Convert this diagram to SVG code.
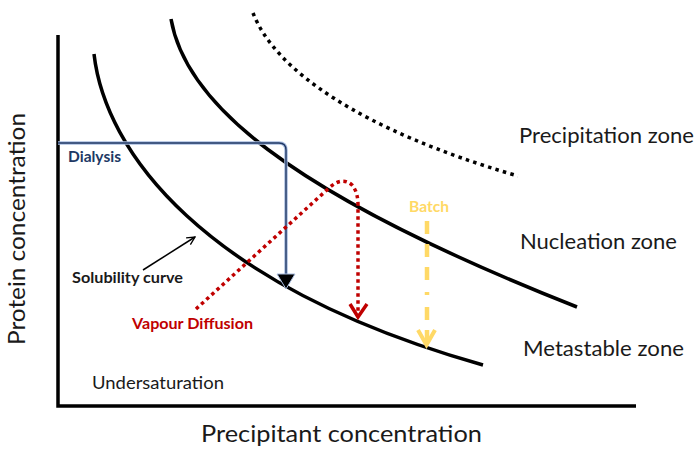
<svg xmlns="http://www.w3.org/2000/svg" width="700" height="461" viewBox="0 0 700 461">
<defs>
<style>
.curve{fill:none;stroke:#000;stroke-width:3.5}
.t{font-family:Lato,"Open Sans","Noto Sans",sans-serif;fill:#1a1a1a}
.zone{font-size:20.5px}
.ax{font-size:24px}
.lbl{font-size:15.5px;font-weight:bold}
</style>
<marker id="openArrow" viewBox="0 0 10 10" refX="9" refY="5" markerWidth="10" markerHeight="10" markerUnits="userSpaceOnUse" orient="auto">
<path d="M1,1 L9,5 L1,9" fill="none" stroke="#000" stroke-width="1.3"/>
</marker>
</defs>
<rect width="700" height="461" fill="#fff"/>
<g id="axes">
<path d="M58,35 V406 H636" fill="none" stroke="#000" stroke-width="3.5"/>
</g>
<g id="curves">
<path id="solubility-curve" class="curve" d="M94,54 C105,150 200,285 483,365"/>
<path id="nucleation-curve" class="curve" d="M171,19 C185,100 280,190 577,307"/>
<path id="precipitation-curve" d="M253,13 C275,70 360,130 518,176" fill="none" stroke="#000" stroke-width="3.5" stroke-dasharray="3.5,4.3"/>
</g>
<g id="connectors">
<g id="dialysis-path">
<path d="M58,143 H279 Q286,143 286,150 V276" fill="none" stroke="#a9bde0" stroke-width="3.5"/>
<path d="M58,143 H279 Q286,143 286,150 V276" fill="none" stroke="#203864" stroke-width="1.4"/>
<path d="M277,274 L295,274 L286,289 Z" fill="#000" stroke="#a9bde0" stroke-width="1"/>
</g>
<g id="vapour-path">
<path d="M196,309 L329,188 Q342,176 352,185 Q358,192 358,205 V316" fill="none" stroke="#c00000" stroke-width="3.5" stroke-dasharray="3.5,3.5"/>
<path d="M350,304 L358,317 L367,304" fill="none" stroke="#c00000" stroke-width="3.5"/>
</g>
<g id="batch-path">
<path d="M427,221 V344" fill="none" stroke="#ffd966" stroke-width="4.5" stroke-dasharray="13,10,13,10,13,12,3,12"/>
<path d="M418,330 L426.5,345 L435,330" fill="none" stroke="#ffd966" stroke-width="4"/>
</g>
<path id="solubility-pointer" d="M143,270 L195,237" stroke="#000" stroke-width="1.5" marker-end="url(#openArrow)"/>
</g>
<g id="labels">
<text class="t zone" x="519" y="143" textLength="175" lengthAdjust="spacingAndGlyphs">Precipitation zone</text>
<text class="t zone" x="520" y="249" textLength="157" lengthAdjust="spacingAndGlyphs">Nucleation zone</text>
<text class="t zone" x="523" y="356" textLength="161" lengthAdjust="spacingAndGlyphs">Metastable zone</text>
<text class="t ax" x="201" y="442" textLength="281" lengthAdjust="spacingAndGlyphs">Precipitant concentration</text>
<text class="t ax" transform="translate(25,345) rotate(-90)" x="0" y="0" textLength="232" lengthAdjust="spacingAndGlyphs">Protein concentration</text>
<text class="t" x="92" y="389" font-size="18" textLength="132" lengthAdjust="spacingAndGlyphs">Undersaturation</text>
<text class="t lbl" x="68" y="162" style="fill:#203864" textLength="53" lengthAdjust="spacingAndGlyphs">Dialysis</text>
<text class="t lbl" x="72" y="283" textLength="111" lengthAdjust="spacingAndGlyphs">Solubility curve</text>
<text class="t lbl" x="132" y="329" style="fill:#c00000" textLength="121" lengthAdjust="spacingAndGlyphs">Vapour Diffusion</text>
<text class="t lbl" x="409" y="212" style="fill:#ffd966" textLength="40" lengthAdjust="spacingAndGlyphs">Batch</text>
</g>
</svg>
